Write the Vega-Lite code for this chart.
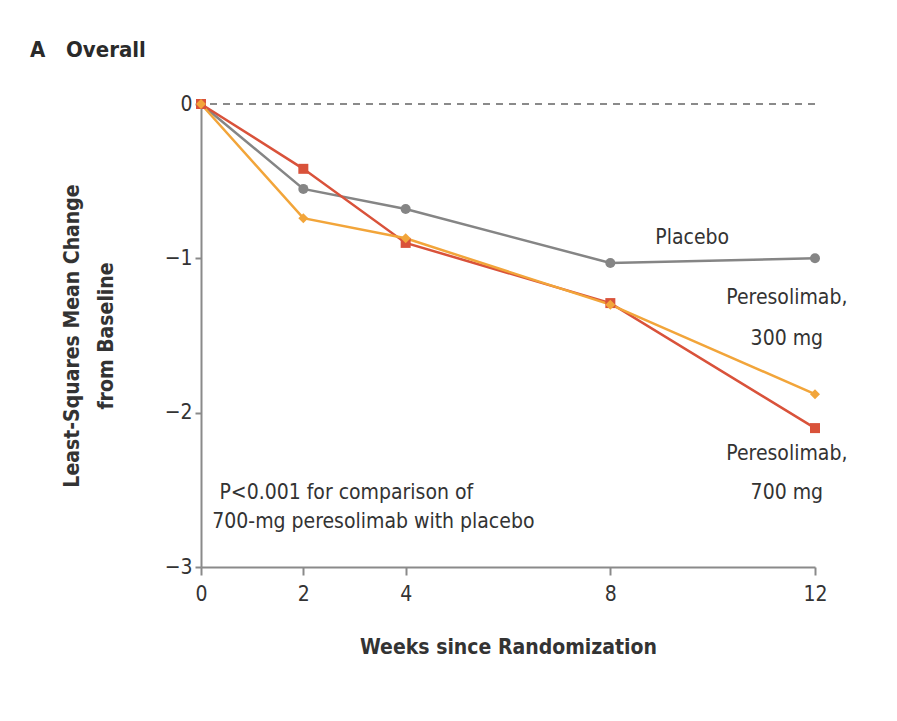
{
  "$schema": "https://vega.github.io/schema/vega-lite/v6.json",
  "width": 614,
  "height": 463,
  "autosize": {"type": "none"},
  "padding": {"left": 201, "top": 104, "right": 82, "bottom": 154},
  "background": "white",
  "config": {
    "font": "DejaVu Sans Condensed",
    "view": {"stroke": null},
    "axis": {"grid": false, "domainColor": "#8a8a8a", "domainWidth": 2, "tickColor": "#8a8a8a", "tickWidth": 2, "labelColor": "#333333", "labelFontSize": 21, "titleColor": "#333333", "titleFontSize": 21, "titleFontWeight": "bold"}
  },
  "title": {"text": "A\u00a0\u00a0\u00a0Overall", "anchor": "start", "frame": "group", "dx": -171, "offset": 31, "fontSize": 22, "fontWeight": "bold", "color": "#2a2a2a"},
  "datasets": {
    "series": [
      {"group": "Placebo", "week": 0, "value": 0},
      {"group": "Placebo", "week": 2, "value": -0.55},
      {"group": "Placebo", "week": 4, "value": -0.68},
      {"group": "Placebo", "week": 8, "value": -1.03},
      {"group": "Placebo", "week": 12, "value": -1.0},
      {"group": "Peresolimab, 700 mg", "week": 0, "value": 0},
      {"group": "Peresolimab, 700 mg", "week": 2, "value": -0.42},
      {"group": "Peresolimab, 700 mg", "week": 4, "value": -0.9},
      {"group": "Peresolimab, 700 mg", "week": 8, "value": -1.29},
      {"group": "Peresolimab, 700 mg", "week": 12, "value": -2.1},
      {"group": "Peresolimab, 300 mg", "week": 0, "value": 0},
      {"group": "Peresolimab, 300 mg", "week": 2, "value": -0.74},
      {"group": "Peresolimab, 300 mg", "week": 4, "value": -0.87},
      {"group": "Peresolimab, 300 mg", "week": 8, "value": -1.3},
      {"group": "Peresolimab, 300 mg", "week": 12, "value": -1.88}
    ],
    "labels": [
      {"week": 9.6, "value": -0.87, "text": "Placebo"},
      {"week": 11.45, "value": -1.26, "text": "Peresolimab,"},
      {"week": 11.45, "value": -1.52, "text": "300 mg"},
      {"week": 11.45, "value": -2.27, "text": "Peresolimab,"},
      {"week": 11.45, "value": -2.52, "text": "700 mg"}
    ],
    "note": [
      {"week": 0.36, "value": -2.52, "text": "P<0.001 for comparison of"},
      {"week": 0.22, "value": -2.71, "text": "700-mg peresolimab with placebo"}
    ]
  },
  "layer": [
    {
      "data": {"values": [{"y": 0}]},
      "mark": {"type": "rule", "color": "#8a8a8a", "strokeWidth": 2, "strokeDash": [7, 6]},
      "encoding": {"y": {"datum": 0, "type": "quantitative", "scale": {"domain": [-3, 0], "nice": false}}}
    },
    {
      "data": {"name": "series"},
      "mark": {"type": "line", "strokeWidth": 2.5},
      "encoding": {
        "x": {"field": "week", "type": "quantitative", "scale": {"domain": [0, 12], "nice": false},
          "axis": {"values": [0, 2, 4, 8, 12], "format": "d", "labelFlush": false, "title": "Weeks since Randomization", "titlePadding": 32, "labelPadding": 8, "tickSize": 8}},
        "y": {"field": "value", "type": "quantitative", "scale": {"domain": [-3, 0], "nice": false},
          "axis": {"values": [0, -1, -2, -3], "format": "d", "labelFlush": false, "title": ["Least-Squares Mean Change", "from Baseline"], "titleLineHeight": 34, "titlePadding": 48, "tickSize": 6, "labelPadding": 3}},
        "color": {"field": "group", "type": "nominal", "legend": null,
          "scale": {"domain": ["Placebo", "Peresolimab, 700 mg", "Peresolimab, 300 mg"], "range": ["#858585", "#d9523a", "#f2a53a"]}},
        "order": {"field": "week"},
        "detail": {"field": "group"}
      }
    },
    {
      "data": {"name": "series"},
      "mark": {"type": "point", "filled": true, "opacity": 1, "size": 100},
      "encoding": {
        "x": {"field": "week", "type": "quantitative"},
        "y": {"field": "value", "type": "quantitative"},
        "color": {"field": "group", "type": "nominal", "legend": null},
        "shape": {"field": "group", "type": "nominal", "legend": null,
          "scale": {"domain": ["Placebo", "Peresolimab, 700 mg", "Peresolimab, 300 mg"], "range": ["circle", "square", "diamond"]}}
      }
    },
    {
      "data": {"name": "labels"},
      "mark": {"type": "text", "fontSize": 21, "color": "#333333", "align": "center", "baseline": "middle"},
      "encoding": {
        "x": {"field": "week", "type": "quantitative"},
        "y": {"field": "value", "type": "quantitative"},
        "text": {"field": "text"}
      }
    },
    {
      "data": {"name": "note"},
      "mark": {"type": "text", "fontSize": 21, "color": "#333333", "align": "left", "baseline": "middle"},
      "encoding": {
        "x": {"field": "week", "type": "quantitative"},
        "y": {"field": "value", "type": "quantitative"},
        "text": {"field": "text"}
      }
    }
  ]
}
